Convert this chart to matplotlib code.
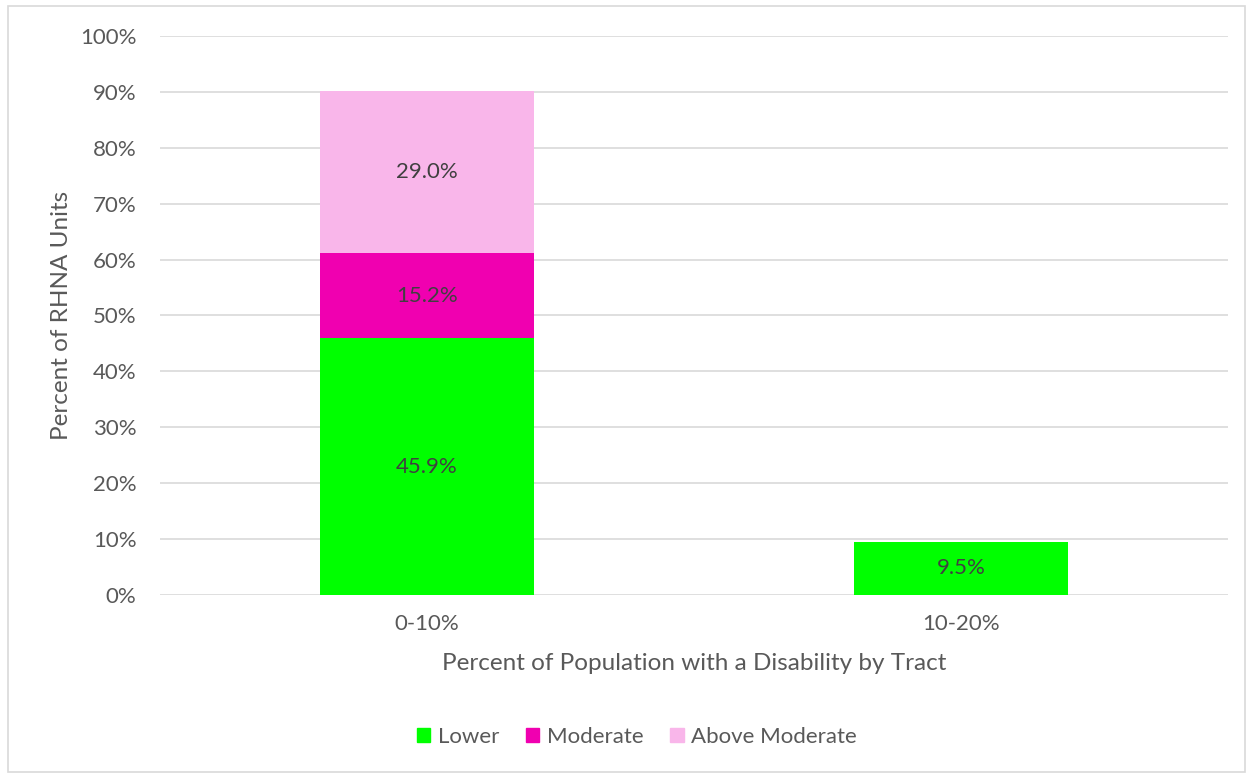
import matplotlib
matplotlib.use("Agg")
import matplotlib.pyplot as plt
from matplotlib.patches import Rectangle
import numpy as np

categories = ["0-10%", "10-20%"]
lower = [45.9, 9.5]
moderate = [15.2, 0.0]
above_moderate = [29.0, 0.0]
series_names = ["Lower", "Moderate", "Above Moderate"]
colors = ["#00FF00", "#F000B0", "#F9B6EA"]
yticks = list(range(0, 101, 10))

plt.rcParams['font.family'] = ['Lato', 'DejaVu Sans']

fig = plt.figure(figsize=(12.53, 7.78), dpi=100)
ax = fig.add_axes([160/1253, 1 - 595/778, 1068/1253, (595 - 36)/778])

x = np.arange(len(categories))
w = 0.4
bottom = np.zeros(len(categories))
for vals, col in zip([lower, moderate, above_moderate], colors):
    vals = np.array(vals)
    ax.bar(x, vals, w, bottom=bottom, color=col, zorder=3)
    for xi, v, b in zip(x, vals, bottom):
        if v > 0:
            ax.text(xi, b + v / 2, f"{v:.1f}%", ha="center", va="center",
                    fontsize=16, color="#404040", zorder=4)
    bottom = bottom + vals

ax.set_xlim(-0.5, 1.5)
ax.set_ylim(0, 100)
ax.set_yticks(yticks)
ax.set_yticklabels([f"{t}%" for t in yticks])
ax.set_xticks(x)
ax.set_xticklabels(categories)
ax.tick_params(axis="both", length=0, labelsize=16, colors="#595959")
ax.tick_params(axis="y", pad=17)
ax.tick_params(axis="x", pad=14)
ax.grid(axis="y", color="#D9D9D9", linewidth=1.2, zorder=0)
for s in ax.spines.values():
    s.set_visible(False)

ax.set_ylabel("Percent of RHNA Units", fontsize=17.5, color="#595959", labelpad=6)
ax.set_xlabel("Percent of Population with a Disability by Tract", fontsize=17.5,
              color="#595959", labelpad=13)

handles = [Rectangle((0, 0), 1, 1, color=c) for c in colors]
fig.legend(handles, series_names, loc="center", bbox_to_anchor=(637/1253, 1 - 737/778),
           ncol=3, frameon=False, fontsize=16, labelcolor="#595959",
           handlelength=0.6, handleheight=0.6, handletextpad=0.35, columnspacing=1.2)

border = Rectangle((8/1253, 6/778), 1237/1253, 766/778, transform=fig.transFigure,
                   fill=False, edgecolor="#D9D9D9", linewidth=1.2)
fig.patches.append(border)

fig.savefig("out.png", dpi=100)
